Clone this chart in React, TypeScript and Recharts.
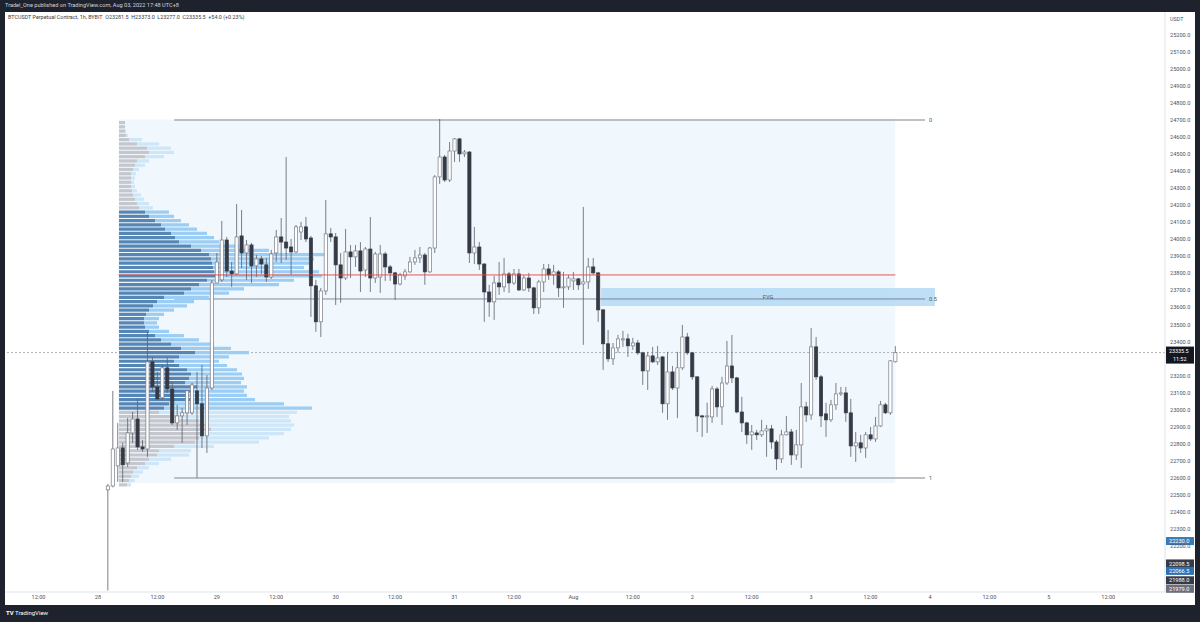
import React from "react";
import {
  ComposedChart,
  BarChart,
  Bar,
  XAxis,
  YAxis,
  ReferenceLine,
  ReferenceArea,
  Cell,
} from "recharts";

// hours counted from Jul 28 00:00 (UTC+8); first candle is 02:00
const FIRST_HOUR = 2;

const opens = [
  22530, 22553, 22671, 22776, 22688, 22864, 22946, 22782, 22770, 23281,
  23134, 23070, 23246, 23122, 22923, 22964, 22982, 22982, 23111, 23035,
  22847, 23128, 23744, 23762, 23996, 23814, 23797, 24020, 23920, 23967,
  23844, 23885, 23850, 23779, 23920, 24014, 23984, 23955, 23926, 24043,
  24073, 24008, 23727, 23516, 23697, 24032, 24014, 23850, 23773, 23926,
  23897, 23932, 23820, 23943, 23773, 23779, 23914, 23838, 23803, 23738,
  23785, 23809, 23867, 23891, 23908, 23809, 23949, 24366, 24483, 24348,
  24518, 24589, 24501, 24512, 23920, 23955, 23855, 23691, 23633, 23744,
  23721, 23797, 23744, 23797, 23703, 23773, 23715, 23598, 23750, 23826,
  23791, 23809, 23715, 23721, 23756, 23768, 23738, 23750, 23838, 23803,
  23586, 23387, 23299, 23363, 23410, 23416, 23375, 23392, 23334, 23228,
  23316, 23281, 23310, 23035, 23222, 23128, 23246, 23427, 23334, 23193,
  22964, 22958, 22958, 23122, 23017, 23157, 23257, 23187, 22987, 22923,
  22853, 22864, 22853, 22876, 22888, 22811, 22712, 22853, 22870, 22735,
  22794, 23017, 22970, 23369, 23193, 22976, 22941, 23029, 23093, 23099,
  22982, 22788, 22806, 22776, 22853, 22829, 22905, 23029, 22982, 23281.5,
];
const highs = [
  22565, 23111, 22923, 22806, 22952, 22987, 23064, 22823, 23457, 23310,
  23222, 23263, 23304, 23163, 23029, 23011, 23115, 23157, 23222, 23263,
  23204, 23762, 23920, 24108, 24014, 23867, 24207, 24172, 23996, 23979,
  23908, 23902, 23891, 23938, 24055, 24125, 24483, 24002, 24084, 24102,
  24131, 24020, 23762, 23715, 24231, 24067, 24037, 23920, 24061, 23967,
  23967, 23984, 23955, 24131, 23926, 23967, 23926, 23850, 23809, 23803,
  23826, 23897, 23938, 23955, 23920, 23955, 24377, 24706, 24495, 24571,
  24594, 24595, 24524, 24518, 24073, 23984, 23861, 23733, 23785, 23867,
  23891, 23809, 23826, 23826, 23791, 23803, 23721, 23762, 23855, 23855,
  23850, 23820, 23809, 23791, 23809, 23773, 24190, 23891, 23891, 23809,
  23590, 23468, 23392, 23439, 23463, 23445, 23422, 23410, 23340, 23340,
  23369, 23375, 23315, 23340, 23257, 23340, 23498, 23451, 23340, 23198,
  22970, 23041, 23140, 23134, 23193, 23404, 23439, 23193, 23076, 22929,
  22911, 22882, 22941, 22911, 22911, 22823, 22882, 22964, 22888, 22882,
  23157, 23046, 23480, 23427, 23204, 23041, 23058, 23157, 23134, 23134,
  23064, 22870, 22853, 22870, 22899, 22958, 23052, 23041, 23292, 23373,
];
const lows = [
  21940, 22545, 22577, 22577, 22665, 22806, 22765, 22753, 22724, 23105,
  23058, 23058, 23099, 22911, 22882, 22806, 22911, 22970, 22600, 22776,
  22747, 23116, 23744, 23750, 23779, 23721, 23791, 23832, 23762, 23744,
  23779, 23797, 23750, 23768, 23867, 23861, 23879, 23791, 23920, 23996,
  23984, 23545, 23457, 23427, 23674, 23984, 23615, 23627, 23762, 23773,
  23838, 23691, 23779, 23691, 23744, 23686, 23756, 23756, 23644, 23730,
  23762, 23803, 23850, 23861, 23733, 23803, 23920, 24325, 24336, 24336,
  24454, 24454, 24483, 23861, 23855, 23820, 23516, 23545, 23527, 23674,
  23691, 23686, 23733, 23697, 23697, 23691, 23562, 23562, 23691, 23762,
  23733, 23662, 23598, 23703, 23703, 23703, 23381, 23709, 23791, 23516,
  23234, 23281, 23263, 23334, 23369, 23310, 23351, 23322, 23146, 23116,
  23275, 23263, 22982, 22941, 23116, 22952, 23234, 23322, 23175, 22870,
  22841, 22864, 22923, 22958, 22911, 23146, 23157, 22980, 22870, 22800,
  22765, 22823, 22841, 22724, 22771, 22647, 22688, 22850, 22677, 22706,
  22659, 22929, 22941, 23175, 22899, 22841, 22929, 22999, 23081, 22929,
  22724, 22694, 22747, 22718, 22817, 22811, 22899, 22976, 22970, 23277,
];
const closes = [
  22553, 22770, 22776, 22677, 22864, 22946, 22782, 22770, 23281, 23134,
  23064, 23246, 23122, 22923, 22964, 22982, 23111, 23146, 23035, 22847,
  23128, 23744, 23867, 23996, 23814, 23797, 24014, 23920, 23967, 23844,
  23885, 23855, 23779, 23914, 24014, 23984, 23949, 23926, 24073, 24073,
  24002, 23727, 23516, 23697, 24032, 24014, 23850, 23773, 23926, 23897,
  23932, 23814, 23943, 23773, 23914, 23914, 23838, 23803, 23738, 23791,
  23809, 23867, 23891, 23908, 23809, 23949, 24366, 24483, 24348, 24518,
  24589, 24501, 24512, 23920, 23955, 23855, 23691, 23633, 23744, 23721,
  23797, 23744, 23797, 23703, 23773, 23715, 23598, 23750, 23826, 23791,
  23809, 23715, 23721, 23773, 23768, 23733, 23750, 23838, 23803, 23586,
  23387, 23299, 23363, 23416, 23416, 23375, 23392, 23334, 23228, 23316,
  23281, 23304, 23035, 23222, 23128, 23246, 23427, 23334, 23193, 22964,
  22958, 22964, 23122, 23017, 23157, 23257, 23187, 22987, 22923, 22853,
  22870, 22853, 22876, 22888, 22811, 22712, 22853, 22870, 22735, 22794,
  23017, 22970, 23369, 23193, 22964, 22941, 23029, 23093, 23099, 22982,
  22788, 22806, 22776, 22853, 22829, 22905, 23029, 22982, 23287, 23335.5,
];

// fixed range volume profile, 25 USDT rows (lower bound of each row)
const vpLevels = [
  24675, 24650, 24625, 24600, 24575, 24550, 24525, 24500, 24475, 24450,
  24425, 24400, 24375, 24350, 24325, 24300, 24275, 24250, 24225, 24200,
  24175, 24150, 24125, 24100, 24075, 24050, 24025, 24000, 23975, 23950,
  23925, 23900, 23875, 23850, 23825, 23800, 23775, 23750, 23725, 23700,
  23675, 23650, 23625, 23600, 23575, 23550, 23525, 23500, 23475, 23450,
  23425, 23400, 23375, 23350, 23325, 23300, 23275, 23250, 23225, 23200,
  23175, 23150, 23125, 23100, 23075, 23050, 23025, 23000, 22975, 22950,
  22925, 22900, 22875, 22850, 22825, 22800, 22775, 22750, 22725, 22700,
  22675, 22650, 22625, 22600, 22575, 22550,
];
const vpUp = [
  6, 6, 6, 7, 10, 18, 28, 30, 26, 18,
  16, 14, 12, 12, 12, 12, 13, 14, 16, 18,
  20, 26, 30, 36, 42, 46, 52, 56, 60, 72,
  82, 90, 92, 93, 94, 95, 96, 88, 80, 72,
  65, 45, 38, 34, 30, 27, 25, 25, 26, 30,
  36, 42, 52, 62, 76, 60, 55, 60, 68, 72,
  70, 66, 78, 75, 70, 72, 50, 45, 40, 60,
  80, 90, 92, 85, 80, 76, 55, 40, 38, 30,
  26, 18, 14, 12, 10, 8,
];
const vpDown = [
  0, 0, 1, 2, 13, 22, 24, 25, 19, 12,
  10, 6, 5, 4, 3, 4, 5, 8, 9, 12,
  14, 24, 25, 26, 28, 32, 36, 39, 40, 48,
  68, 115, 103, 97, 91, 105, 107, 87, 80, 53,
  45, 45, 37, 34, 25, 18, 15, 13, 14, 20,
  29, 38, 43, 50, 54, 50, 45, 48, 50, 51,
  55, 56, 50, 50, 58, 64, 115, 148, 138, 110,
  92, 85, 80, 80, 70, 64, 40, 32, 32, 22,
  14, 12, 10, 8, 6, 4,
];
const VA_HIGH = 24150;
const VA_LOW = 23000;
const POC = 23791;

// 23300.0 sits under the last-price tag and is not shown
const priceTicks = [
  22200, 22300, 22400, 22500, 22600, 22700, 22800, 22900, 23000, 23100,
  23200, 23400, 23500, 23600, 23700, 23800, 23900, 24000, 24100,
  24200, 24300, 24400, 24500, 24600, 24700, 24800, 24900, 25000, 25100,
  25200,
];
const timeTicks = [
  -12, 0, 12, 24, 36, 48, 60, 72, 84, 96, 108, 120, 132, 144, 156, 168, 180,
  192, 204,
];
const timeLabels = [
  "12:00", "28", "12:00", "29", "12:00", "30", "12:00", "31", "12:00", "Aug",
  "12:00", "2", "12:00", "3", "12:00", "4", "12:00", "5", "12:00",
];

const fibLevels = [24700, 23650, 22600];
const fibNames = ["0", "0.5", "1"];

const LAST_PRICE = 23335.5;
const tagPrices = [22230, 22098.5, 22066.5, 21988, 21979];
const tagColors = ["#3b7bb5", "#363a45", "#2f72b3", "#363a45", "#6d707a"];
const tagNudge = [0, 0, 2, -2, 5];

const X_MIN = -18.76;
const X_MAX = 215.45;
const Y_MIN = 21931;
const Y_MAX = 25333.5;

const candles = opens.map((o, i) => ({
  t: FIRST_HOUR + i,
  o,
  h: highs[i],
  l: lows[i],
  c: closes[i],
}));

const profile = vpLevels.map((lv, i) => ({
  p: lv + 12.5,
  up: vpUp[i],
  down: vpDown[i],
  va: lv >= VA_LOW && lv <= VA_HIGH,
}));

const FONT = "Roboto, 'Liberation Sans', Arial, sans-serif";
const AXIS_TEXT = "#50535e";

const Candle = (props: any) => {
  const { x, y, width, height, payload } = props;
  if (!payload || height == null) return null;
  const { o, h, l, c } = payload;
  const cx = x + width / 2;
  const k = h - l > 0 ? height / (h - l) : 0;
  const top = y + (h - Math.max(o, c)) * k;
  const bot = y + (h - Math.min(o, c)) * k;
  const up = c >= o;
  return (
    <g>
      <line x1={cx} x2={cx} y1={y} y2={y + height} stroke="#5d606b" strokeWidth={0.8} />
      <rect
        x={cx - 1.6}
        y={top}
        width={3.2}
        height={Math.max(bot - top, 0.8)}
        fill={up ? "#ffffff" : "#363a45"}
        stroke={up ? "#787b86" : "#363a45"}
        strokeWidth={0.7}
      />
    </g>
  );
};

const priceTag = (text: string, bg: string, nudge: number) => (props: any) => {
  const vb = props.viewBox;
  if (!vb) return null;
  const x = vb.x + vb.width + 1;
  const y = vb.y + nudge;
  return (
    <g>
      <rect x={x} y={y - 4} width={28} height={8} fill={bg} />
      <text x={x + 3} y={y + 2.1} fontSize={5.6} fill="#ffffff" fontFamily={FONT}>
        {text}
      </text>
    </g>
  );
};

const lastTag = (props: any) => {
  const vb = props.viewBox;
  if (!vb) return null;
  const x = vb.x + vb.width + 1;
  const y = vb.y;
  return (
    <g>
      <rect x={x} y={y - 6} width={28} height={17} fill="#131722" />
      <text x={x + 3} y={y + 0.8} fontSize={5.4} fill="#ffffff" fontFamily={FONT}>
        {LAST_PRICE.toFixed(1)}
      </text>
      <text x={x + 7} y={y + 8.6} fontSize={5.4} fill="#ffffff" fontFamily={FONT}>
        11:52
      </text>
    </g>
  );
};

export default function App() {
  return (
    <div
      style={{
        position: "absolute",
        left: 0,
        top: 0,
        width: 1200,
        height: 622,
        background: "#1e222d",
        overflow: "hidden",
        fontFamily: FONT,
      }}
    >
      <div style={{ position: "absolute", left: 5, top: 2, fontSize: 5.6, color: "#d1d4dc", whiteSpace: "nowrap" }}>
        Tradel_One published on TradingView.com, Aug 03, 2022 17:48 UTC+8
      </div>
      <div style={{ position: "absolute", left: 5, top: 12, width: 1190, height: 593, background: "#ffffff" }} />

      {/* base layer: axes, range box, fib, FVG, last price */}
      <div style={{ position: "absolute", left: 5, top: 12 }}>
        <ComposedChart width={1190} height={593} data={candles} margin={{ top: 0, right: 0, bottom: 0, left: 0 }}>
          <XAxis
            type="number"
            dataKey="t"
            domain={[X_MIN, X_MAX]}
            allowDataOverflow
            ticks={timeTicks}
            interval={0}
            tickFormatter={(v: number) => timeLabels[timeTicks.indexOf(v)] ?? ""}
            height={13}
            axisLine={{ stroke: "#e0e3eb" }}
            tickLine={false}
            tickSize={0}
            tickMargin={3}
            tick={{ fontSize: 5.6, fill: AXIS_TEXT, fontFamily: FONT }}
          />
          <YAxis
            type="number"
            orientation="right"
            domain={[Y_MIN, Y_MAX]}
            allowDataOverflow
            ticks={priceTicks}
            interval={0}
            tickFormatter={(v: number) => v.toFixed(1)}
            width={30}
            axisLine={{ stroke: "#e0e3eb" }}
            tickLine={false}
            tickSize={0}
            tickMargin={5}
            tick={{ fontSize: 5.6, fill: AXIS_TEXT, fontFamily: FONT }}
          />
          <ReferenceArea x1={4.17} x2={161} y1={22571} y2={24703} fill="#f0f7fd" fillOpacity={1} stroke="none" />
          {fibLevels.map((lv, i) => (
            <ReferenceLine
              key={`fib-${i}`}
              segment={[
                { x: 15.4, y: lv },
                { x: 167, y: lv },
              ]}
              stroke={i === 1 ? "#6a6d78" : "#a9acb3"}
              strokeWidth={i === 1 ? 0.8 : 1.4}
              label={{ value: fibNames[i], position: "right", offset: 4, fontSize: 5.6, fill: "#50535e" }}
            />
          ))}
          <ReferenceArea
            x1={101.6}
            x2={169}
            y1={23609}
            y2={23715}
            fill="#b3d9f6"
            fillOpacity={0.85}
            stroke="none"
            label={{ value: "FVG", position: "center", fontSize: 5.6, fill: "#50535e" }}
          />
          <ReferenceLine y={LAST_PRICE} stroke="#8c8f99" strokeWidth={0.7} strokeDasharray="2 2" label={lastTag} />
          {tagPrices.map((p, i) => (
            <ReferenceLine
              key={`tag-${i}`}
              y={p}
              stroke="none"
              label={priceTag(p.toFixed(1), tagColors[i], tagNudge[i])}
            />
          ))}
        </ComposedChart>
      </div>

      {/* volume profile layer */}
      <div style={{ position: "absolute", left: 118.5, top: 12, pointerEvents: "none" }}>
        <BarChart
          width={1000}
          height={580}
          data={profile}
          layout="vertical"
          margin={{ top: 0, right: 0, bottom: 0, left: 0 }}
          barCategoryGap={0}
        >
          <XAxis type="number" hide domain={[0, 1000]} allowDataOverflow />
          <YAxis type="number" dataKey="p" hide reversed domain={[Y_MIN, Y_MAX]} allowDataOverflow />
          <Bar dataKey="up" stackId="v" barSize={3.2} isAnimationActive={false}>
            {profile.map((r, i) => (
              <Cell key={`u-${i}`} fill={r.va ? "#5686b6" : "#c4c7cd"} />
            ))}
          </Bar>
          <Bar dataKey="down" stackId="v" barSize={3.2} isAnimationActive={false}>
            {profile.map((r, i) => (
              <Cell key={`d-${i}`} fill={r.va ? "#9ccdf4" : "#cde6f8"} />
            ))}
          </Bar>
        </BarChart>
      </div>

      {/* candles layer */}
      <div style={{ position: "absolute", left: 5, top: 12, pointerEvents: "none" }}>
        <ComposedChart width={1160} height={580} data={candles} margin={{ top: 0, right: 0, bottom: 0, left: 0 }}>
          <XAxis type="number" dataKey="t" hide domain={[X_MIN, X_MAX]} allowDataOverflow />
          <YAxis type="number" hide domain={[Y_MIN, Y_MAX]} allowDataOverflow />
          <ReferenceLine
            segment={[
              { x: 4.17, y: POC },
              { x: 161, y: POC },
            ]}
            stroke="#e0473e"
            strokeWidth={0.9}
          />
          <Bar
            dataKey={(d: any) => [d.l, d.h]}
            barSize={3}
            shape={(p: any) => <Candle {...p} />}
            isAnimationActive={false}
          />
        </ComposedChart>
      </div>

      <div style={{ position: "absolute", left: 8, top: 14, fontSize: 5.4, color: "#363a45", whiteSpace: "nowrap" }}>
        BTCUSDT Perpetual Contract, 1h, BYBIT&nbsp;&nbsp;O23281.5&nbsp;&nbsp;H23373.0&nbsp;&nbsp;L23277.0&nbsp;&nbsp;C23335.5&nbsp;&nbsp;+54.0 (+0.23%)
      </div>
      <div style={{ position: "absolute", left: 1170, top: 16, fontSize: 5.4, color: AXIS_TEXT }}>USDT</div>
      <div style={{ position: "absolute", left: 6, top: 609, fontSize: 6, color: "#ffffff", whiteSpace: "nowrap" }}>
        <b>TV</b> TradingView
      </div>
    </div>
  );
}
